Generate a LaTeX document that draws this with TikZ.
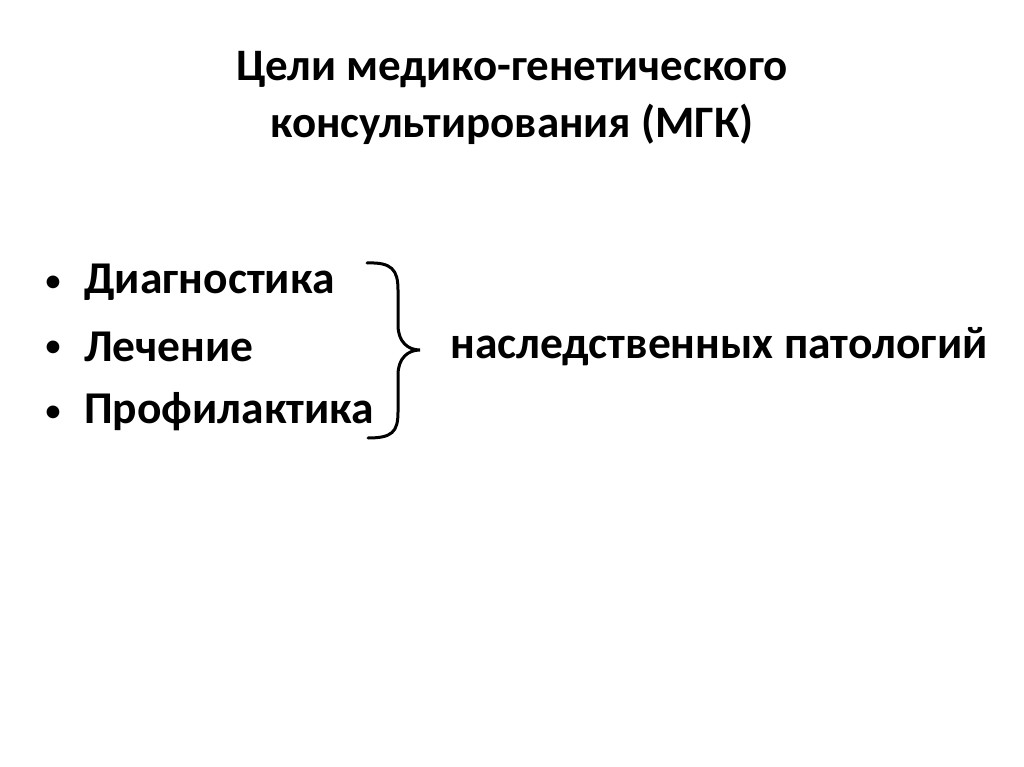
\documentclass[tikz,border=0pt]{standalone}
\usepackage{fontspec}
\setmainfont{Carlito}
\begin{document}
\begin{tikzpicture}[x=1pt,y=-1pt,
  txt/.style={font=\bfseries\fontsize{45.5}{50}\selectfont, inner sep=0pt},
  bul/.style={font=\fontsize{36}{40}\selectfont, inner sep=0pt},
  ttl/.style={font=\bfseries\fontsize{45}{57}\selectfont, inner sep=0pt, align=center}]
\useasboundingbox (0,0) rectangle (1024,767);
\fill[white] (0,0) rectangle (1024,767);
\node[ttl] (title) at (512,98) {Цели медико-генетического\\консультирования (МГК)};
\node[bul,anchor=west] (b1) at (44,284) {•};
\node[bul,anchor=west] (b2) at (44,349) {•};
\node[bul,anchor=west] (b3) at (44,414) {•};
\node[txt,anchor=west] (d) at (84,282) {Диагностика};
\node[txt,anchor=west] (l) at (84,347) {Лечение};
\node[txt,anchor=west] (p) at (84,412) {Профилактика};
\node[txt,anchor=west] (n) at (450,347) {наследственных патологий};
\draw[line width=3pt, line cap=round]
  (367,263) .. controls (392,262) and (398,270) .. (398,290)
  -- (398,325) .. controls (398,342) and (408,350) .. (420,350)
  .. controls (408,350) and (398,358) .. (398,375)
  -- (398,412) .. controls (398,432) and (392,438) .. (368,438);
\end{tikzpicture}
\end{document}
